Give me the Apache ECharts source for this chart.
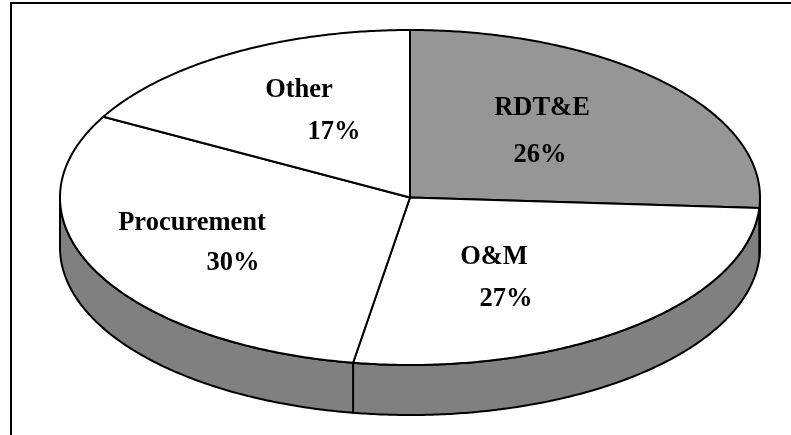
<!DOCTYPE html>
<html>
<head>
<meta charset="utf-8">
<style>html,body{margin:0;padding:0;background:#fff}#c{width:791px;height:435px}</style>
<script src="https://cdn.jsdelivr.net/npm/echarts@6/dist/echarts.min.js"></script>
</head>
<body>
<div id="c"></div>
<script>
const categories = ['RDT&E', 'O&M', 'Procurement', 'Other'];
const shares = [26.0, 26.6, 30.4, 17.0];
const topColors = ['#969696', '#ffffff', '#ffffff', '#ffffff'];

const CX = 410, CY = 197.5, RX = 350, RY = 167.5, DEPTH = 50;
const SIDE = '#808080', INK = '#000000', LINE = 2;
const labelNamePos = [[542, 108], [494, 257], [192, 223], [299, 90]];
const labelPctPos = [[540, 155], [506, 299], [233, 263], [334, 132]];
const FONT = 'bold 26.5px "Liberation Serif", "Times New Roman", serif';

const total = shares.reduce((a, b) => a + b, 0);
const starts = [];
shares.reduce((acc, v, i) => { starts[i] = acc; return acc + v; }, 0);

function pt(deg, dy) {
  const r = deg * Math.PI / 180;
  return [CX + RX * Math.sin(r), CY - RY * Math.cos(r) + (dy || 0)];
}
function arc(a, b, dy) {
  const pts = [], n = Math.max(2, Math.ceil(Math.abs(b - a) * 2));
  for (let k = 0; k <= n; k++) pts.push(pt(a + (b - a) * k / n, dy));
  return pts;
}

function renderItem(params, api) {
  const i = params.dataIndex;
  const a0 = api.value(1) / total * 360;
  const a1 = a0 + api.value(0) / total * 360;
  const children = [];
  // wall: only the part of the slice facing the viewer (90deg to 270deg)
  const s0 = Math.max(a0, 90), s1 = Math.min(a1, 270);
  if (s1 > s0) {
    children.push({
      type: 'polygon',
      shape: { points: arc(s0, s1, 0).concat(arc(s1, s0, DEPTH)) },
      style: { fill: SIDE, stroke: INK, lineWidth: LINE, lineJoin: 'round' }
    });
  }
  children.push({
    type: 'polygon',
    shape: { points: [[CX, CY]].concat(arc(a0, a1, 0)) },
    style: { fill: topColors[i], stroke: INK, lineWidth: LINE, lineJoin: 'round' }
  });
  children.push({
    type: 'text',
    style: { text: categories[i], x: labelNamePos[i][0], y: labelNamePos[i][1], font: FONT, fill: INK, align: 'center', verticalAlign: 'middle' }
  });
  children.push({
    type: 'text',
    style: { text: Math.round(api.value(0)) + '%', x: labelPctPos[i][0], y: labelPctPos[i][1], font: FONT, fill: INK, align: 'center', verticalAlign: 'middle' }
  });
  return { type: 'group', children };
}

const chart = echarts.init(document.getElementById('c'), null, { renderer: 'canvas' });
chart.setOption({
  animation: false,
  backgroundColor: '#ffffff',
  graphic: [
    { type: 'rect', shape: { x: 10, y: 2, width: 781, height: 2 }, style: { fill: INK }, silent: true },
    { type: 'rect', shape: { x: 10, y: 2, width: 2, height: 433 }, style: { fill: INK }, silent: true }
  ],
  series: [{
    type: 'custom',
    coordinateSystem: 'none',
    renderItem,
    silent: true,
    encode: { value: [0, 1] },
    data: shares.map((v, i) => ({ name: categories[i], value: [v, starts[i]] }))
  }]
});
</script>
</body>
</html>
